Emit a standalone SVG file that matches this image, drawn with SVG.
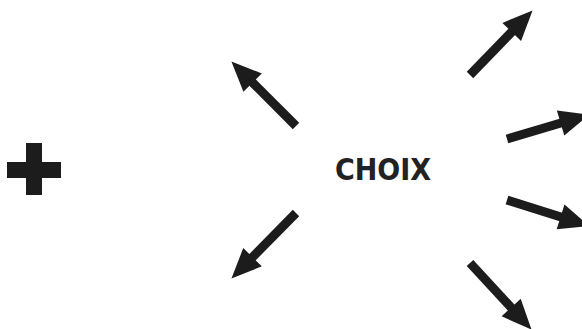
<svg xmlns="http://www.w3.org/2000/svg" width="582" height="329" viewBox="0 0 582 329">
  <style>
    .arrow { stroke: #1c1c1c; stroke-width: 9; fill: none; marker-end: url(#head); }
    .label { font-family: "DejaVu Sans Condensed", "DejaVu Sans", sans-serif; font-weight: bold; font-size: 30px; fill: #222222; }
  </style>
  <defs>
    <marker id="head" markerUnits="userSpaceOnUse" markerWidth="30" markerHeight="26" viewBox="0 0 30 26" refX="2" refY="13" orient="auto" overflow="visible">
      <path d="M0,0 L30,13 L0,26 z" fill="#1c1c1c"/>
    </marker>
  </defs>
  <rect width="582" height="329" fill="#ffffff"/>
  <g id="plus">
    <rect x="26" y="143" width="16" height="52" fill="#1c1c1c"/>
    <rect x="7" y="162" width="54" height="16" fill="#1c1c1c"/>
  </g>
  <g id="choix">
    <text class="label" x="383" y="180" text-anchor="middle">CHOIX</text>
  </g>
  <g id="connectors">
    <line class="arrow" x1="296" y1="126" x2="251.2" y2="81.2"/>
    <line class="arrow" x1="296" y1="213" x2="251.1" y2="258.6"/>
    <line class="arrow" x1="470" y1="75" x2="513.1" y2="30.5"/>
    <line class="arrow" x1="507" y1="139" x2="562.5" y2="122.5"/>
    <line class="arrow" x1="507" y1="200" x2="562.5" y2="217.5"/>
    <line class="arrow" x1="470" y1="263" x2="512.5" y2="309"/>
  </g>
</svg>
